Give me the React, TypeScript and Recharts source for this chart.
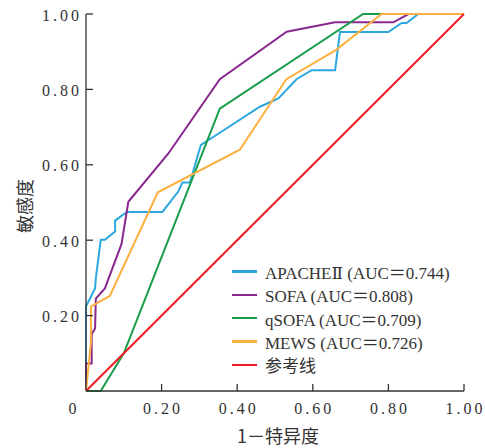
import { LineChart, Line, XAxis, YAxis, Legend, Label } from 'recharts'

// ROC points (1 - specificity, sensitivity)
const apacheFpr = [0, 0, 0.024, 0.026, 0.039, 0.05, 0.077, 0.077, 0.108, 0.202, 0.244, 0.255, 0.275, 0.304, 0.354, 0.46, 0.509, 0.557, 0.597, 0.659, 0.672, 0.8, 0.835, 0.848, 0.879, 1]
const apacheTpr = [0, 0.225, 0.272, 0.299, 0.401, 0.401, 0.423, 0.452, 0.475, 0.475, 0.529, 0.553, 0.553, 0.653, 0.685, 0.754, 0.776, 0.827, 0.851, 0.851, 0.952, 0.952, 0.976, 0.976, 1, 1]

const sofaFpr = [0, 0, 0.015, 0.015, 0.024, 0.026, 0.05, 0.094, 0.112, 0.218, 0.354, 0.531, 0.659, 0.813, 0.853, 1]
const sofaTpr = [0, 0.073, 0.073, 0.151, 0.166, 0.245, 0.272, 0.39, 0.502, 0.63, 0.827, 0.953, 0.978, 0.978, 1, 1]

const qsofaFpr = [0, 0.039, 0.1, 0.354, 0.733, 1]
const qsofaTpr = [0, 0, 0.1, 0.749, 1, 1]

const mewsFpr = [0, 0.013, 0.013, 0.063, 0.19, 0.407, 0.53, 0.662, 0.782, 1]
const mewsTpr = [0, 0.127, 0.224, 0.252, 0.527, 0.64, 0.827, 0.905, 1, 1]

const refFpr = [0, 1]
const refTpr = [0, 1]

const xTicks = [0, 0.2, 0.4, 0.6, 0.8, 1]
const yTicks = [0.2, 0.4, 0.6, 0.8, 1]

const toPoints = (xs: number[], ys: number[]) => xs.map((x, i) => ({ x, y: ys[i] }))

const series = [
  { name: 'APACHEⅡ (AUC＝0.744)', color: '#2CA7DF', data: toPoints(apacheFpr, apacheTpr) },
  { name: 'SOFA (AUC＝0.808)', color: '#89288F', data: toPoints(sofaFpr, sofaTpr) },
  { name: 'qSOFA (AUC＝0.709)', color: '#189D48', data: toPoints(qsofaFpr, qsofaTpr) },
  { name: 'MEWS (AUC＝0.726)', color: '#FBB040', data: toPoints(mewsFpr, mewsTpr) },
  { name: '参考线', color: '#ED1C24', data: toPoints(refFpr, refTpr) },
]

const serif = '"Liberation Serif", "DejaVu Serif", "Noto Sans CJK SC", serif'
const axisColor = '#333'

const XTick = (props: any) => {
  const { x, y, payload } = props
  const v = payload.value
  return (
    <g>
      {v !== 0 && <line x1={x} y1={y} x2={x} y2={y - 7} stroke={axisColor} strokeWidth={1.3} />}
      <text
        x={v === 0 ? x - 12 : x + 1.5}
        y={y + 23}
        textAnchor="middle"
        fontFamily={serif}
        fontSize={16}
        letterSpacing={3}
        fill="#333"
      >
        {v === 0 ? '0' : v.toFixed(2)}
      </text>
    </g>
  )
}

const YTick = (props: any) => {
  const { x, y, payload } = props
  return (
    <g>
      <line x1={x} y1={y} x2={x + 7} y2={y} stroke={axisColor} strokeWidth={1.3} />
      <text x={x - 4} y={y + 6.5} textAnchor="end" fontFamily={serif} fontSize={16} letterSpacing={3} fill="#333">
        {payload.value.toFixed(2)}
      </text>
    </g>
  )
}

const renderLegend = () => (
  <div style={{ fontFamily: serif, fontSize: 17, color: '#333' }}>
    {series.map((s) => (
      <div key={s.name} style={{ display: 'flex', alignItems: 'center', height: 23.3 }}>
        <span style={{ display: 'inline-block', width: 25, height: 2.5, background: s.color, marginRight: 8 }} />
        <span style={{ whiteSpace: 'nowrap' }}>{s.name}</span>
      </div>
    ))}
  </div>
)

export default function App() {
  return (
    <div style={{ position: 'absolute', left: 0, top: 0 }}>
      <LineChart width={485} height={448} margin={{ top: 14, right: 21, bottom: 27, left: 20 }}>
        <XAxis
          type="number"
          dataKey="x"
          domain={[0, 1]}
          ticks={xTicks}
          tick={<XTick />}
          tickSize={0}
          tickMargin={0}
          height={30}
          stroke={axisColor}
          strokeWidth={1.3}
          allowDuplicatedCategory={false}
        >
          <Label
            content={({ viewBox }: any) => (
              <text
                x={viewBox.x + viewBox.width / 2 + 3}
                y={viewBox.y + 52}
                textAnchor="middle"
                fontFamily='"Noto Sans CJK SC", sans-serif'
                fontSize={18}
                fill="#333"
              >
                1－特异度
              </text>
            )}
          />
        </XAxis>
        <YAxis
          type="number"
          dataKey="y"
          domain={[0, 1]}
          ticks={yTicks}
          tick={<YTick />}
          tickSize={0}
          tickMargin={0}
          width={66}
          stroke={axisColor}
          strokeWidth={1.3}
        >
          <Label
            content={() => (
              <text
                x={24}
                y={206}
                transform="rotate(-90, 24, 206)"
                textAnchor="middle"
                dominantBaseline="central"
                fontFamily='"Noto Sans CJK SC", sans-serif'
                fontSize={18}
                fill="#333"
              >
                敏感度
              </text>
            )}
          />
        </YAxis>
        <Legend
          layout="horizontal"
          align="center"
          verticalAlign="middle"
          content={renderLegend}
          wrapperStyle={{ left: 232, top: 260, width: 240, height: 120 }}
        />
        {series.map((s) => (
          <Line
            key={s.name}
            data={s.data}
            dataKey="y"
            name={s.name}
            type="linear"
            stroke={s.color}
            strokeWidth={2}
            dot={false}
            isAnimationActive={false}
          />
        ))}
      </LineChart>
    </div>
  )
}
